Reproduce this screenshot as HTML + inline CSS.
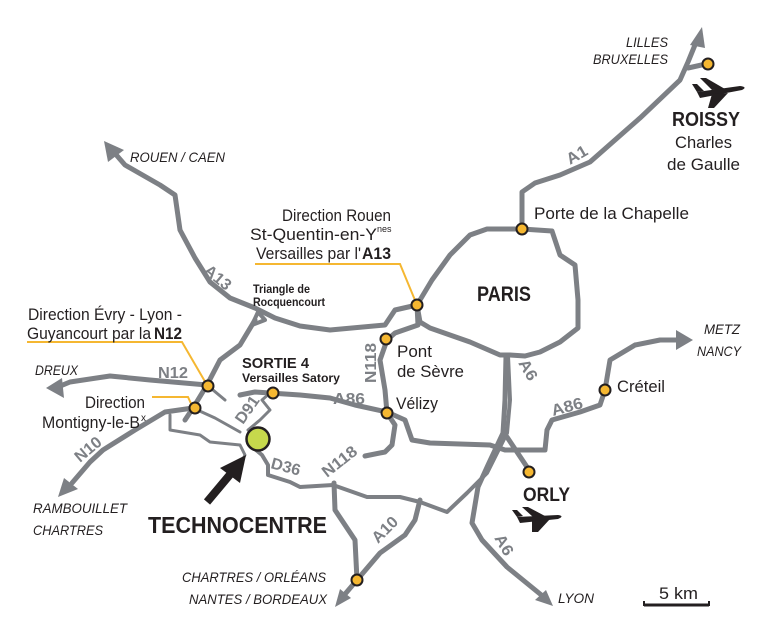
<!DOCTYPE html>
<html><head><meta charset="utf-8"><style>
html,body{margin:0;padding:0;background:#fff}
svg{display:block}
text{font-family:"Liberation Sans",sans-serif;fill:#231f20}
.it{font-style:italic;font-size:14px}
.lb{font-size:17px}
.rl{font-size:16px;fill:#7d8085;font-weight:bold}
</style></head><body>
<svg width="775" height="644" viewBox="0 0 775 644" xmlns="http://www.w3.org/2000/svg">
<g fill="none" stroke="#7d8085" stroke-width="5" stroke-linejoin="round" stroke-linecap="round">
<path d="M417,305 L432,280 L450,255 L470,235 L487,229 L522,229 L552,231 L560,255 L575,265 L578,300 L578,328 L560,342 L540,352 L525,356 L510,355 L500,355 L470,342 L430,328 L420,322 Z"/>
<path d="M522,229 L522,192 L535,183 L560,175 L590,162 L640,118 L680,80 L688,62 L697,40"/>
<path d="M688,68 L706,64"/>
<path d="M417,305 L395,310 L385,325 L330,330 L300,326 L275,318 L255,308 L230,298 L210,282 L195,258 L180,230 L175,195 L160,185 L125,165 L112,150"/>
<path d="M258,312 L252,325 L265,320 Z" stroke-width="4"/>
<path d="M255,320 L240,345 L220,360 L207,385 L193,408 L185,420"/>
<path d="M207,385 L150,380 L110,376 L70,382 L58,387"/>
<path d="M207,385 L225,400" stroke-width="3"/>
<path d="M193,408 L165,412 L135,430 L103,450 L90,462 L72,483"/>
<path d="M193,408 L215,418 L240,432" stroke-width="3"/>
<path d="M170,415 L170,430 L200,435 L210,442 L240,445 L245,455 L240,465" stroke-width="3"/>
<path d="M270,393 L262,400 L270,410 L260,420 L248,430" stroke-width="3"/>
<path d="M240,395 L255,392 L270,393 L300,395 L330,398 L355,405 L387,412 L405,420 L412,440 L430,443 L490,445 L505,450 L545,450 L547,430 L552,420 L580,412 L600,405 L605,390 L610,360 L635,345 L660,340 L680,340"/>
<path d="M417,305 L418,325 L395,333 L387,340 L380,360 L385,390 L387,413 L395,425 L392,445 L385,452 L365,456"/>
<path d="M334,483 L335,510 L355,540 L357,580"/>
<path d="M340,600 L357,580 L380,553 L405,535 L415,520 L420,500"/>
<path d="M250,445 L262,455 L268,465 L268,475 L290,482 L300,487 L333,485 L367,497 L400,497 L420,502 L447,512 L467,493 L487,473 L500,447 L507,433 L510,400 L508,356" stroke-width="4"/>
<path d="M506,356 L505,400 L503,433 L488,465 L478,487 L472,523 L482,540 L507,567 L545,598"/>
<path d="M507,437 L527,467"/>
</g>
<g fill="#7d8085">
<polygon points="702,27 690,45 705,48"/>
<polygon points="104,141 108,162 124,150"/>
<polygon points="46,388 62,378 64,398"/>
<polygon points="58,497 64,478 78,489"/>
<polygon points="335,607 340,589 351,598"/>
<polygon points="553,606 535,600 546,590"/>
<polygon points="693,340 676,330 676,350"/>
</g>
<g fill="none" stroke="#f5b731" stroke-width="2">
<path d="M255,264 L400,264 L417,305"/>
<path d="M27,342 L182,342 L207,385"/>
<path d="M152,397 L188,397 L193,408"/>
</g>
<g fill="#f5b731" stroke="#231f20" stroke-width="2">
<circle cx="522" cy="229" r="5.5"/><circle cx="708" cy="64" r="5.5"/>
<circle cx="417" cy="305" r="5.5"/><circle cx="386" cy="339" r="5.5"/>
<circle cx="387" cy="413" r="5.5"/><circle cx="273" cy="393" r="5.5"/>
<circle cx="208" cy="386" r="5.5"/><circle cx="195" cy="408" r="5.5"/>
<circle cx="605" cy="390" r="5.5"/><circle cx="529" cy="472" r="5.5"/>
<circle cx="357" cy="580" r="5.5"/>
</g>
<circle cx="258" cy="439" r="11.5" fill="#c6d94c" stroke="#231f20" stroke-width="2.5"/>
<path d="M207,502 L233,471" stroke="#231f20" stroke-width="8"/>
<polygon points="246,455 220,468 240,483" fill="#231f20"/>
<g fill="#231f20">
<path d="M697,92 L740,86 Q748,87 742,90 L700,98 Z"/><path d="M712,90 L700,78 L706,78 L725,89 Z"/><path d="M712,94 L708,108 L714,108 L728,93 Z"/><path d="M697,92 L692,84 L697,84 L704,91Z"/>
<path d="M517,517 L558,515 Q565,516 558,519 L520,523 Z"/><path d="M533,517 L522,507 L528,507 L545,516 Z"/><path d="M532,521 L532,532 L538,532 L550,519 Z"/><path d="M517,517 L512,510 L517,510 L523,516Z"/>
</g>
<path d="M644,605 L709,605" stroke="#231f20" stroke-width="3"/>
<path d="M644,601 L644,606 M709,601 L709,606" stroke="#231f20" stroke-width="2"/>
<text x="659" y="599" class="lb" textLength="39" lengthAdjust="spacingAndGlyphs">5 km</text>
<text x="668" y="47" class="it" text-anchor="end" textLength="42" lengthAdjust="spacingAndGlyphs">LILLES</text>
<text x="668" y="64" class="it" text-anchor="end" textLength="75" lengthAdjust="spacingAndGlyphs">BRUXELLES</text>
<text x="740" y="126" text-anchor="end" style="font-size:20px;font-weight:bold" textLength="68" lengthAdjust="spacingAndGlyphs">ROISSY</text>
<text x="732" y="148" text-anchor="end" class="lb" textLength="57" lengthAdjust="spacingAndGlyphs">Charles</text>
<text x="740" y="170" text-anchor="end" class="lb" textLength="73" lengthAdjust="spacingAndGlyphs">de Gaulle</text>
<text x="534" y="219" class="lb" textLength="155" lengthAdjust="spacingAndGlyphs">Porte de la Chapelle</text>
<text x="477" y="301" style="font-size:21px;font-weight:bold" textLength="54" lengthAdjust="spacingAndGlyphs">PARIS</text>
<text x="130" y="162" class="it" textLength="95" lengthAdjust="spacingAndGlyphs">ROUEN / CAEN</text>
<text x="391" y="221" class="lb" text-anchor="end" textLength="109" lengthAdjust="spacingAndGlyphs">Direction Rouen</text>
<text x="377" y="240" class="lb" text-anchor="end" textLength="127" lengthAdjust="spacingAndGlyphs">St-Quentin-en-Y</text>
<text x="377" y="232" style="font-size:9px">nes</text>
<text x="361" y="259" class="lb" text-anchor="end" textLength="105" lengthAdjust="spacingAndGlyphs">Versailles par l'</text>
<text x="362" y="259" class="lb" font-weight="bold" textLength="29" lengthAdjust="spacingAndGlyphs">A13</text>
<text x="253" y="293" style="font-size:12px;font-weight:bold" textLength="57" lengthAdjust="spacingAndGlyphs">Triangle de</text>
<text x="253" y="306" style="font-size:12px;font-weight:bold" textLength="72" lengthAdjust="spacingAndGlyphs">Rocquencourt</text>
<text x="182" y="320" class="lb" text-anchor="end" textLength="154" lengthAdjust="spacingAndGlyphs">Direction Évry - Lyon -</text>
<text x="151" y="339" class="lb" text-anchor="end" textLength="124" lengthAdjust="spacingAndGlyphs">Guyancourt par la</text>
<text x="154" y="339" class="lb" font-weight="bold" textLength="28" lengthAdjust="spacingAndGlyphs">N12</text>
<text x="35" y="375" class="it" textLength="43" lengthAdjust="spacingAndGlyphs">DREUX</text>
<text x="145" y="408" class="lb" text-anchor="end" textLength="60" lengthAdjust="spacingAndGlyphs">Direction</text>
<text x="140" y="428" class="lb" text-anchor="end" textLength="98" lengthAdjust="spacingAndGlyphs">Montigny-le-B</text>
<text x="141" y="421" style="font-size:10px">x</text>
<text x="242" y="368" style="font-size:15px;font-weight:bold" textLength="67" lengthAdjust="spacingAndGlyphs">SORTIE 4</text>
<text x="242" y="382" style="font-size:12px;font-weight:bold" textLength="98" lengthAdjust="spacingAndGlyphs">Versailles Satory</text>
<text x="397" y="357" class="lb" textLength="35" lengthAdjust="spacingAndGlyphs">Pont</text>
<text x="397" y="377" class="lb" textLength="67" lengthAdjust="spacingAndGlyphs">de Sèvre</text>
<text x="396" y="409" class="lb" textLength="42" lengthAdjust="spacingAndGlyphs">Vélizy</text>
<text x="617" y="392" class="lb" textLength="48" lengthAdjust="spacingAndGlyphs">Créteil</text>
<text x="740" y="334" class="it" text-anchor="end" textLength="36" lengthAdjust="spacingAndGlyphs">METZ</text>
<text x="741" y="356" class="it" text-anchor="end" textLength="44" lengthAdjust="spacingAndGlyphs">NANCY</text>
<text x="523" y="501" style="font-size:19px;font-weight:bold" textLength="47" lengthAdjust="spacingAndGlyphs">ORLY</text>
<text x="33" y="513" class="it" textLength="94" lengthAdjust="spacingAndGlyphs">RAMBOUILLET</text>
<text x="33" y="535" class="it" textLength="70" lengthAdjust="spacingAndGlyphs">CHARTRES</text>
<text x="148" y="533" style="font-size:23px;font-weight:bold" textLength="179" lengthAdjust="spacingAndGlyphs">TECHNOCENTRE</text>
<text x="326" y="582" class="it" text-anchor="end" textLength="144" lengthAdjust="spacingAndGlyphs">CHARTRES / ORLÉANS</text>
<text x="327" y="604" class="it" text-anchor="end" textLength="138" lengthAdjust="spacingAndGlyphs">NANTES / BORDEAUX</text>
<text x="558" y="603" class="it" textLength="36" lengthAdjust="spacingAndGlyphs">LYON</text>
<text class="rl" transform="translate(203,272) rotate(40)" textLength="30" lengthAdjust="spacingAndGlyphs">A13</text>
<text class="rl" x="158" y="378" textLength="30" lengthAdjust="spacingAndGlyphs">N12</text>
<text class="rl" transform="translate(80,463) rotate(-40)" textLength="30" lengthAdjust="spacingAndGlyphs">N10</text>
<text class="rl" transform="translate(243,425) rotate(-55)" textLength="30" lengthAdjust="spacingAndGlyphs">D91</text>
<text class="rl" x="333" y="404" textLength="32" lengthAdjust="spacingAndGlyphs">A86</text>
<text class="rl" transform="translate(376,383) rotate(-90)" textLength="40" lengthAdjust="spacingAndGlyphs">N118</text>
<text class="rl" transform="translate(270,468) rotate(15)" textLength="30" lengthAdjust="spacingAndGlyphs">D36</text>
<text class="rl" transform="translate(327,478) rotate(-38)" textLength="40" lengthAdjust="spacingAndGlyphs">N118</text>
<text class="rl" transform="translate(378,544) rotate(-45)" textLength="30" lengthAdjust="spacingAndGlyphs">A10</text>
<text class="rl" transform="translate(518,363) rotate(60)" textLength="22" lengthAdjust="spacingAndGlyphs">A6</text>
<text class="rl" transform="translate(494,538) rotate(60)" textLength="22" lengthAdjust="spacingAndGlyphs">A6</text>
<text class="rl" transform="translate(553,416) rotate(-15)" textLength="32" lengthAdjust="spacingAndGlyphs">A86</text>
<text class="rl" transform="translate(570,165) rotate(-30)" textLength="22" lengthAdjust="spacingAndGlyphs">A1</text>
</svg>
</body></html>
